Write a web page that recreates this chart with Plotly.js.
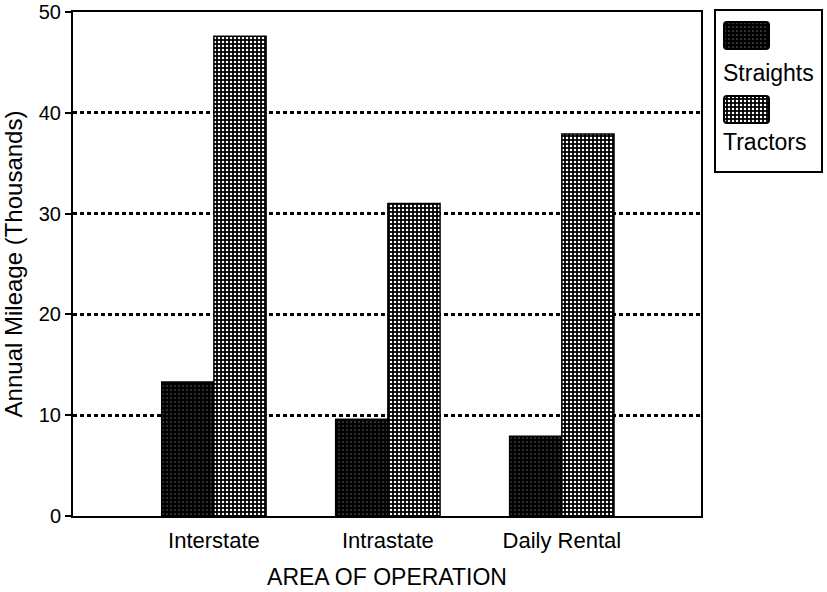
<!DOCTYPE html>
<html><head><meta charset="utf-8">
<script src="https://cdn.plot.ly/plotly-3.0.1.min.js"></script>
<style>html,body{margin:0;padding:0;background:#fff}#chart{width:827px;height:592px}</style>
</head><body><div id="chart"></div>
<script>
const categories = ['Interstate', 'Intrastate', 'Daily Rental'];
const seriesNames = ['Straights', 'Tractors'];
const straights = [13.3, 9.6, 7.9];
const tractors = [47.6, 31.0, 37.9];
const yTicks = [0, 10, 20, 30, 40, 50];
const xTitle = 'AREA OF OPERATION';
const yTitle = 'Annual Mileage (Thousands)';

const W = 827, H = 592, L = 73, R = 701, T = 12, B = 516;
const px = x => (x - L) / (R - L);
const py = y => (B - y) / (B - T);
const FONT = '"Liberation Sans", Arial, Helvetica, sans-serif';

const patStraights = {shape: '.', bgcolor: '#000000', fgcolor: '#5a5a5a', size: 4, solidity: 0.15};
const patTractors = {shape: '.', bgcolor: '#000000', fgcolor: '#ffffff', size: 4, solidity: 0.3};

function swatch(p) {
  const r = Math.sqrt(p.solidity * p.size * p.size / Math.PI).toFixed(2);
  const s = p.size, h = s / 2;
  const svg = '<svg xmlns="http://www.w3.org/2000/svg" width="47" height="29" viewBox="0 0 47 29">' +
    '<defs><pattern id="p" width="' + s + '" height="' + s + '" patternUnits="userSpaceOnUse">' +
    '<rect width="' + s + '" height="' + s + '" fill="' + p.bgcolor + '"/>' +
    '<circle cx="' + h + '" cy="' + h + '" r="' + r + '" fill="' + p.fgcolor + '"/></pattern></defs>' +
    '<rect x="1" y="1" width="45" height="27" rx="3" ry="3" fill="url(#p)" stroke="#000" stroke-width="2"/></svg>';
  return 'data:image/svg+xml;charset=utf-8,' + encodeURIComponent(svg);
}

const traces = [
  {type: 'bar', name: seriesNames[0], x: categories, y: straights,
   marker: {color: '#000', pattern: patStraights, line: {color: '#000', width: 1.5}}, showlegend: false},
  {type: 'bar', name: seriesNames[1], x: categories, y: tractors,
   marker: {color: '#000', pattern: patTractors, line: {color: '#000', width: 1.5}}, showlegend: false}
];

const layout = {
  width: W, height: H,
  margin: {l: L, r: W - R, t: T, b: H - B, pad: 0},
  paper_bgcolor: '#fff', plot_bgcolor: '#fff',
  font: {family: FONT, color: '#000', size: 22},
  barmode: 'group', bargap: 0.4, bargroupgap: 0,
  showlegend: false,
  xaxis: {type: 'category', range: [-0.81, 2.8], showline: true, linecolor: '#000', linewidth: 2, mirror: true,
          ticks: 'outside', ticklen: 4, tickcolor: 'rgba(0,0,0,0)', showgrid: false, zeroline: false,
          ticklabeloverflow: 'allow',
          tickfont: {size: 22}, title: {text: xTitle, font: {size: 23}, standoff: 16}, fixedrange: true},
  xaxis2: {overlaying: 'x', anchor: 'y', side: 'bottom', range: [-0.81, 2.8], tickmode: 'array',
           tickvals: [0.5, 1.5, 2.8], ticks: 'outside', ticklen: 9, tickwidth: 2, tickcolor: '#000',
           showticklabels: false, showgrid: false, zeroline: false, showline: false},
  yaxis: {range: [0, 50], tickmode: 'array', tickvals: yTicks, ticks: 'outside', ticklen: 6, tickwidth: 2,
          tickcolor: '#000', showline: true, linecolor: '#000', linewidth: 2, mirror: true,
          showgrid: true, gridcolor: '#000', gridwidth: 3, griddash: '4px,3px', zeroline: false,
          ticklabeloverflow: 'allow',
          tickfont: {size: 20}, title: {text: yTitle, font: {size: 24}, standoff: 9}},
  yaxis2: {overlaying: 'y', anchor: 'x', side: 'left', range: [0, 50], tickmode: 'array', tickvals: yTicks,
           ticks: 'inside', ticklen: 7, tickwidth: 2, tickcolor: '#000', showticklabels: false,
           showgrid: false, zeroline: false, showline: false},
  shapes: [
    {type: 'rect', xref: 'paper', yref: 'paper', x0: px(715), x1: px(822), y0: py(172), y1: py(10),
     line: {color: '#000', width: 2}, fillcolor: 'rgba(0,0,0,0)'}
  ],
  images: [
    {source: swatch(patStraights), xref: 'paper', yref: 'paper', x: px(723), y: py(21),
     sizex: px(770) - px(723), sizey: (50 - 21) / (B - T), sizing: 'stretch', xanchor: 'left', yanchor: 'top', layer: 'above'},
    {source: swatch(patTractors), xref: 'paper', yref: 'paper', x: px(723), y: py(95),
     sizex: px(770) - px(723), sizey: (124 - 95) / (B - T), sizing: 'stretch', xanchor: 'left', yanchor: 'top', layer: 'above'}
  ],
  annotations: [
    {text: seriesNames[0], xref: 'paper', yref: 'paper', x: px(721), y: py(72.5), xanchor: 'left', yanchor: 'middle',
     showarrow: false, font: {size: 23, color: '#000'}},
    {text: seriesNames[1], xref: 'paper', yref: 'paper', x: px(721), y: py(141.5), xanchor: 'left', yanchor: 'middle',
     showarrow: false, font: {size: 23, color: '#000'}}
  ]
};

Plotly.newPlot('chart', traces, layout, {staticPlot: true, displayModeBar: false});
</script>
</body></html>
